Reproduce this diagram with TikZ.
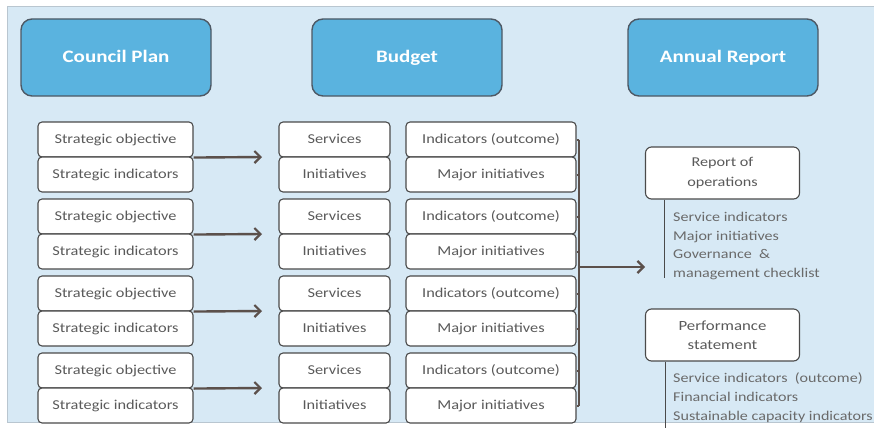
\documentclass[tikz,border=0pt]{standalone}
\usepackage{fontspec}
\setmainfont[FakeStretch=1.2]{Carlito}
\usetikzlibrary{arrows.meta}
\definecolor{bg}{HTML}{D7E9F5}
\definecolor{bgline}{HTML}{B9C6D0}
\definecolor{hdrfill}{HTML}{5AB3DF}
\definecolor{hdrline}{HTML}{4D5864}
\definecolor{boxline}{HTML}{4A4A4A}
\definecolor{txt}{HTML}{5A5A5A}
\definecolor{listtxt}{HTML}{6A6A6A}
\definecolor{arr}{HTML}{5B504B}
\tikzset{
  hdr/.style={draw=hdrline, fill=hdrfill, line width=1.4pt, rounded corners=11pt,
    minimum width=190pt, minimum height=77pt, inner sep=0pt, text=white,
    text height=12pt, text depth=1pt,
    font=\fontsize{17.5}{20}\selectfont\bfseries},
  cell/.style={draw=boxline, fill=white, line width=1.1pt, rounded corners=4pt,
    minimum height=35pt, inner sep=0pt, text=txt, text height=9.5pt, text depth=2.5pt,
    font=\fontsize{13.6}{15}\selectfont},
  leftcell/.style={cell, minimum width=155pt},
  midcell/.style={cell, minimum width=111pt},
  rightcell/.style={cell, minimum width=170pt},
  repbox/.style={draw=boxline, fill=white, line width=1.1pt, rounded corners=6pt,
    minimum width=154pt, minimum height=52pt, inner sep=0pt, text=txt, align=center},
  listline/.style={anchor=base west, inner sep=0pt, text=listtxt, font=\fontsize{13.4}{15}\selectfont},
  bigarrow/.style={draw=arr, line width=2.4pt, -{Straight Barb[length=6pt,width=12pt,line width=2.2pt]}},
  bracket/.style={draw=arr, line width=2pt},
  thinline/.style={draw=boxline, line width=1pt},
}
\begin{document}
\begin{tikzpicture}[x=1pt,y=-1pt]
\useasboundingbox (0,0) rectangle (874,428);
\fill[white] (0,0) rectangle (874,428);
\filldraw[fill=bg, draw=bgline, line width=0.6pt] (7,6) rectangle (876,422);

% headers
\node[hdr] (cp) at (116,57.5) {Council Plan};
\node[hdr] (bu) at (407,57.5) {Budget};
\node[hdr] (ar) at (723,57.5) {Annual Report};

% groups
\foreach \g/\t in {1/122,2/199,3/276,4/353}{
  \node[leftcell] (so\g) at (115.5,\t+17.5) {Strategic objective};
  \node[leftcell] (si\g) at (115.5,\t+52.5) {Strategic indicators};
  \node[midcell] (sv\g) at (334.5,\t+17.5) {Services};
  \node[midcell] (in\g) at (334.5,\t+52.5) {Initiatives};
  \node[rightcell] (io\g) at (491,\t+17.5) {Indicators (outcome)};
  \node[rightcell] (mi\g) at (491,\t+52.5) {Major initiatives};
  \coordinate (ae\g) at (262,\t+35);
  \draw[bigarrow] (so\g.south east) -- (ae\g);
}

% bracket on the right
\coordinate (bt) at (579,139.5);
\coordinate (bb) at (579,405.5);
\draw[bracket] (bt) -- (bb);
\foreach \g in {1,2,3,4}{
  \draw[bracket] (io\g.east) -- (io\g.east -| bt);
  \draw[bracket] (mi\g.east) -- (mi\g.east -| bt);
}
\coordinate (bo) at (579,267);
\coordinate (be) at (645,267);
\draw[bigarrow] (bo) -- (be);

% annual report items
\node[repbox, font=\fontsize{13.5}{20}\selectfont] (rop) at (722.5,173) {Report of\\operations};
\coordinate (ropl) at (664,278);
\draw[thinline] (rop.south -| ropl) -- (ropl);
\node[listline] (r1) at (673,221.5) {Service indicators};
\node[listline] (r2) at (673,240) {Major initiatives};
\node[listline] (r3) at (673,258.5) {Governance \ \&};
\node[listline] (r4) at (673,277) {management checklist};

\node[repbox, font=\fontsize{14}{19}\selectfont] (ps) at (722.5,335) {Performance\\statement};
\coordinate (psl) at (665,428);
\draw[thinline] (ps.south -| psl) -- (psl);
\node[listline] (p1) at (673,382) {Service indicators \ (outcome)};
\node[listline] (p2) at (673,401) {Financial indicators};
\node[listline] (p3) at (673,420) {Sustainable capacity indicators};
\end{tikzpicture}
\end{document}
